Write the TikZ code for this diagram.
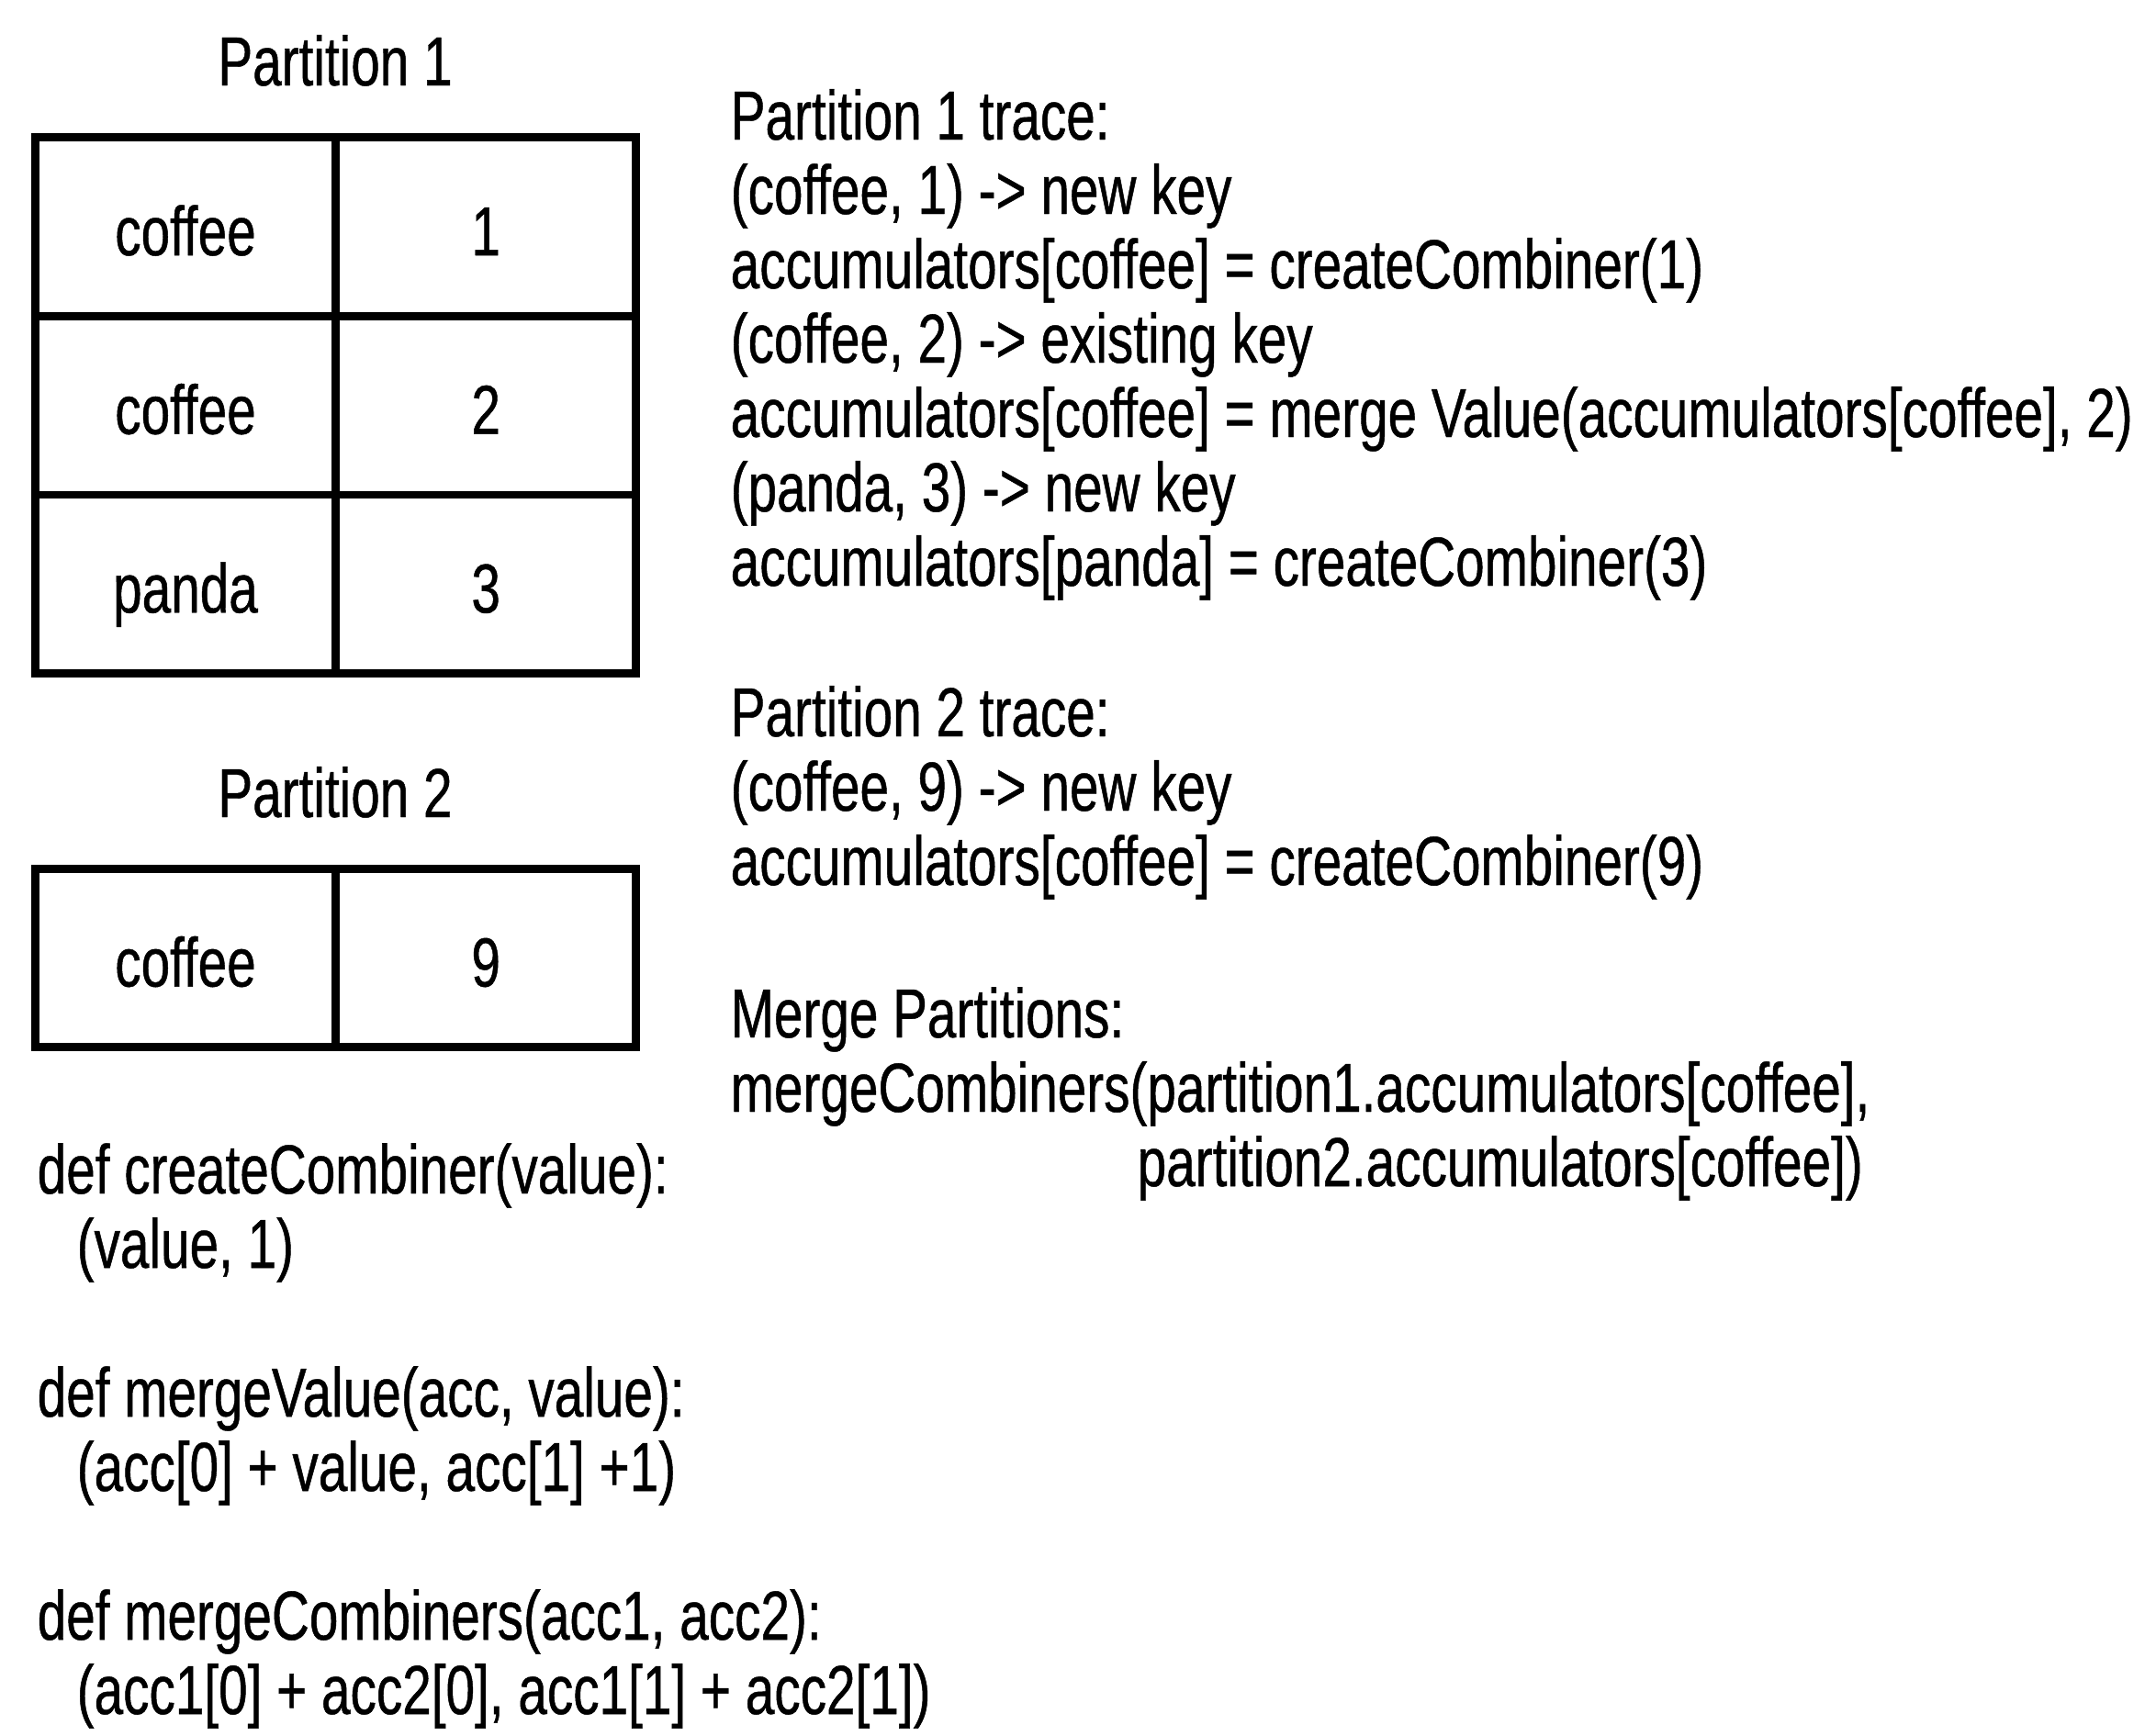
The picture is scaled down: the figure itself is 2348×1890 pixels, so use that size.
\documentclass[tikz,border=0pt]{standalone}
\usepackage{fontspec}
\setmainfont{Liberation Sans}[FakeStretch=0.75, FakeBold=0.6]
\usetikzlibrary{positioning}

\begin{document}
\begin{tikzpicture}[
  x=0.01cm, y=-0.01cm,
  node distance=1.945cm and 3.27cm, on grid,
  every node/.style={font=\fontsize{21.5}{23}\selectfont, inner sep=0pt},
  cell/.style={draw, line width=2.5pt, minimum width=3.27cm, minimum height=1.945cm,
    text height=0.7cm, text depth=0.08cm},
  title/.style={anchor=base},
  codeline/.style={anchor=base west},
  ]
  \useasboundingbox (0,0) rectangle (2348,1890);

  % partition 1
  \node[title] (p1) at (365,93) {Partition 1};
  \node[cell]  (k11) at (202,247)     {coffee};
  \node[cell]  (v11) [right=of k11]   {1};
  \node[cell]  (k12) [below=of k11]   {coffee};
  \node[cell]  (v12) [right=of k12]   {2};
  \node[cell]  (k13) [below=of k12]   {panda};
  \node[cell]  (v13) [right=of k13]   {3};

  % partition 2
  \node[title] (p2) at (365,890) {Partition 2};
  \node[cell]  (k21) at (202,1043.5)  {coffee};
  \node[cell]  (v21) [right=of k21]   {9};

  % function definitions
  \node[codeline] (cc)  at (40,1300) {def createCombiner(value):};
  \node[codeline] (ccb) at (83,1381) {(value, 1)};
  \node[codeline] (mv)  at (40,1543) {def mergeValue(acc, value):};
  \node[codeline] (mvb) at (83,1624) {(acc[0] + value, acc[1] +1)};
  \node[codeline] (mc)  at (40,1786) {def mergeCombiners(acc1, acc2):};
  \node[codeline] (mcb) at (83,1867) {(acc1[0] + acc2[0], acc1[1] + acc2[1])};

  % traces
  \node[codeline] (t1)  at (795,152) {Partition 1 trace:};
  \node[codeline] (t1a) at (795,233) {(coffee, 1) -> new key};
  \node[codeline] (t1b) at (795,314) {accumulators[coffee] = createCombiner(1)};
  \node[codeline] (t1c) at (795,395) {(coffee, 2) -> existing key};
  \node[codeline] (t1d) at (795,476) {accumulators[coffee] = merge Value(accumulators[coffee], 2)};
  \node[codeline] (t1e) at (795,557) {(panda, 3) -> new key};
  \node[codeline] (t1f) at (795,638) {accumulators[panda] = createCombiner(3)};

  \node[codeline] (t2)  at (795,802) {Partition 2 trace:};
  \node[codeline] (t2a) at (795,883) {(coffee, 9) -> new key};
  \node[codeline] (t2b) at (795,964) {accumulators[coffee] = createCombiner(9)};

  \node[codeline] (m)   at (795,1130) {Merge Partitions:};
  \node[codeline] (ma)  at (795,1211) {mergeCombiners(partition1.accumulators[coffee],};
  \node[codeline] (mb)  at (1238,1292) {partition2.accumulators[coffee])};
\end{tikzpicture}
\end{document}
